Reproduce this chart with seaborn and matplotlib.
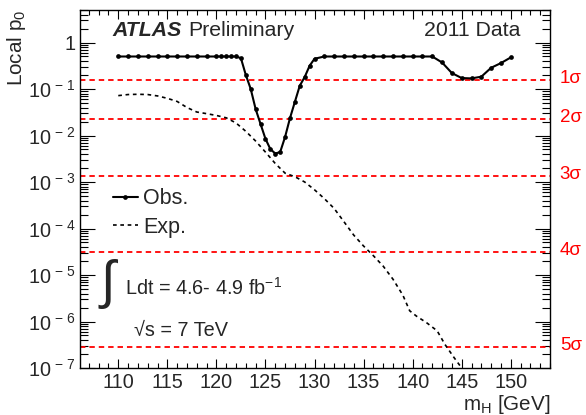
import matplotlib
matplotlib.use("Agg")
import numpy as np
import pandas as pd
import matplotlib.pyplot as plt
import seaborn as sns
from matplotlib.lines import Line2D
from matplotlib.ticker import MultipleLocator, FixedLocator, LogLocator, FuncFormatter, NullFormatter

# Observed local p0 versus Higgs mass hypothesis
obs_mass = [110, 111, 112, 113, 114, 115, 116, 117, 118, 119,
            120, 120.5, 121, 121.5, 122, 122.5, 123, 123.5, 124, 124.5,
            125, 125.5, 126, 126.5, 127, 127.5, 128, 128.5, 129, 129.5,
            130, 131, 132, 133, 134, 135, 136, 137, 138, 139, 140, 141, 142,
            143, 144, 145, 146, 147, 148, 149, 150]
obs_p0 = [0.5, 0.5, 0.5, 0.5, 0.5, 0.5, 0.5, 0.5, 0.5, 0.5,
          0.5, 0.5, 0.5, 0.5, 0.5, 0.46, 0.20, 0.10, 0.037, 0.0177,
          0.0085, 0.0051, 0.0041, 0.0044, 0.0093, 0.0236, 0.053, 0.118, 0.181, 0.316,
          0.447, 0.5, 0.5, 0.5, 0.5, 0.5, 0.5, 0.5, 0.5, 0.5, 0.5, 0.5, 0.5,
          0.372, 0.22, 0.172, 0.169, 0.184, 0.286, 0.361, 0.477]

# Expected local p0 for a Standard Model Higgs boson
exp_mass = [110, 111, 112, 113, 114, 115, 116, 117, 118, 119,
            120, 121, 122, 123, 124, 125, 126, 127, 128, 129,
            130, 131, 132, 133, 134, 135, 136, 137, 138, 139,
            139.7, 140.4, 141.4, 142.5, 143.3, 144.2, 145, 146]
exp_p0 = [0.072, 0.076, 0.077, 0.076, 0.071, 0.063, 0.054, 0.040, 0.032, 0.0295,
          0.027, 0.024, 0.0186, 0.0123, 0.0076, 0.0044, 0.0025, 0.00155, 0.0013, 0.0010,
          6.8e-4, 4.4e-4, 2.7e-4, 1.4e-4, 7.2e-5, 4.2e-5, 2.6e-5, 1.55e-5, 8.1e-6, 3.7e-6,
          1.7e-6, 1.3e-6, 9.5e-7, 6.3e-7, 3.2e-7, 1.7e-7, 1.0e-7, 5e-8]

# One-sided Gaussian significance levels
sigma_p0 = [0.1587, 0.02275, 1.35e-3, 3.17e-5, 2.87e-7]
sigma_labels = ["1σ", "2σ", "3σ", "4σ", "5σ"]

y_major = [1e-7, 1e-6, 1e-5, 1e-4, 1e-3, 1e-2, 1e-1, 1.0]

sns.set_style("ticks")
plt.rcParams["font.family"] = ["Liberation Sans", "DejaVu Sans"]
plt.rcParams["mathtext.fontset"] = "custom"
plt.rcParams["mathtext.rm"] = "Liberation Sans"
plt.rcParams["mathtext.it"] = "Liberation Sans:italic"
plt.rcParams["mathtext.bf"] = "Liberation Sans:bold"
plt.rcParams["mathtext.default"] = "regular"

fig = plt.figure(figsize=(5.86, 4.15), dpi=100)
ax = fig.add_axes([80 / 586, 1 - 368 / 415, 470 / 586, 358 / 415])

obs_df = pd.DataFrame({"mass": obs_mass, "p0": obs_p0})
exp_df = pd.DataFrame({"mass": exp_mass, "p0": exp_p0})

ax.set_yscale("log")
ax.set_xlim(106.1, 154.0)
ax.set_ylim(1e-7, 5.0)

for p, lab in zip(sigma_p0, sigma_labels):
    ax.axhline(p, color="#ff0000", lw=1.3, ls=(0, (3.0, 2.2)), zorder=1)
    ax.annotate(lab, xy=(1.0, p), xycoords=("axes fraction", "data"),
                xytext=(7, 1), textcoords="offset points",
                ha="left", va="center", color="#ff0000", fontsize=13.5,
                annotation_clip=False)

sns.lineplot(data=exp_df, x="mass", y="p0", ax=ax, color="black", lw=1.2,
             linestyle=(0, (2.2, 2.2)), estimator=None, sort=False, zorder=3)
sns.lineplot(data=obs_df, x="mass", y="p0", ax=ax, color="black", lw=1.5,
             marker="o", markersize=3.4, markeredgewidth=0, estimator=None,
             sort=False, zorder=4)

ax.set_xlabel("")
ax.set_ylabel("")

# ROOT-style ticks on all four sides, pointing inward
ax.xaxis.set_major_locator(MultipleLocator(5))
ax.xaxis.set_minor_locator(MultipleLocator(1))
ax.yaxis.set_major_locator(FixedLocator(y_major))
ax.yaxis.set_minor_locator(LogLocator(base=10, subs=np.arange(2, 10), numticks=100))
ax.yaxis.set_minor_formatter(NullFormatter())


def yfmt(v, pos):
    n = int(round(np.log10(v)))
    if n == 0:
        return "1"
    return r"$10^{\,-\,%d}$" % (-n)


ax.yaxis.set_major_formatter(FuncFormatter(yfmt))
ax.tick_params(axis="x", which="major", direction="in", length=6.5, width=0.8,
               top=True, labelsize=14.3, pad=3.5, color="black")
ax.tick_params(axis="x", which="minor", direction="in", length=3.3, width=0.8,
               top=True, color="black")
ax.tick_params(axis="y", which="major", direction="in", length=11, width=0.8,
               right=True, labelsize=14.3, pad=3, color="black")
ax.tick_params(axis="y", which="minor", direction="in", length=5.5, width=0.8,
               right=True, color="black")
for s in ax.spines.values():
    s.set_linewidth(1.0)
    s.set_color("black")

# Legend
handles = [Line2D([], [], color="black", lw=1.5, marker="o", markersize=3.4,
                  markeredgewidth=0),
           Line2D([], [], color="black", lw=1.2, linestyle=(0, (2.2, 2.2)))]
ax.legend(handles, ["Obs.", "Exp."], loc="center left",
          bbox_to_anchor=((113 - 80) / 470, (368 - 213) / 358),
          frameon=False, fontsize=15.5, handlelength=1.16, handletextpad=0.25,
          borderpad=0, borderaxespad=0, labelspacing=0.33, markerscale=1.0)

# Labels and annotations
ax.text((109 - 80) / 470, (368 - 284) / 358, r"$\int$", transform=ax.transAxes,
        fontsize=38, ha="center", va="center", math_fontfamily="cm")
ax.text((112 - 80) / 470, (368 - 35.5) / 358, "ATLAS", transform=ax.transAxes,
        fontsize=15.3, fontweight="bold", fontstyle="italic", va="baseline")
ax.text((188 - 80) / 470, (368 - 35.5) / 358, "Preliminary", transform=ax.transAxes,
        fontsize=15.3, va="baseline")
ax.text((520 - 80) / 470, (368 - 35.5) / 358, "2011 Data", transform=ax.transAxes,
        fontsize=15.3, va="baseline", ha="right")
ax.text((125 - 80) / 470, (368 - 295) / 358, r"Ldt = 4.6- 4.9 fb$^{-1}$",
        transform=ax.transAxes, fontsize=14.3, va="baseline")
ax.text((134 - 80) / 470, (368 - 336) / 358, "√s = 7 TeV",
        transform=ax.transAxes, fontsize=14.3, va="baseline")

fig.text(17 / 586, 1 - 10 / 415, r"Local p$_0$", rotation=90, ha="center",
         va="top", fontsize=14.9)
fig.text(550 / 586, 1 - 410 / 415, r"m$_H$ [GeV]", ha="right", va="baseline",
         fontsize=14.9)

fig.savefig("out.png", dpi=100)
